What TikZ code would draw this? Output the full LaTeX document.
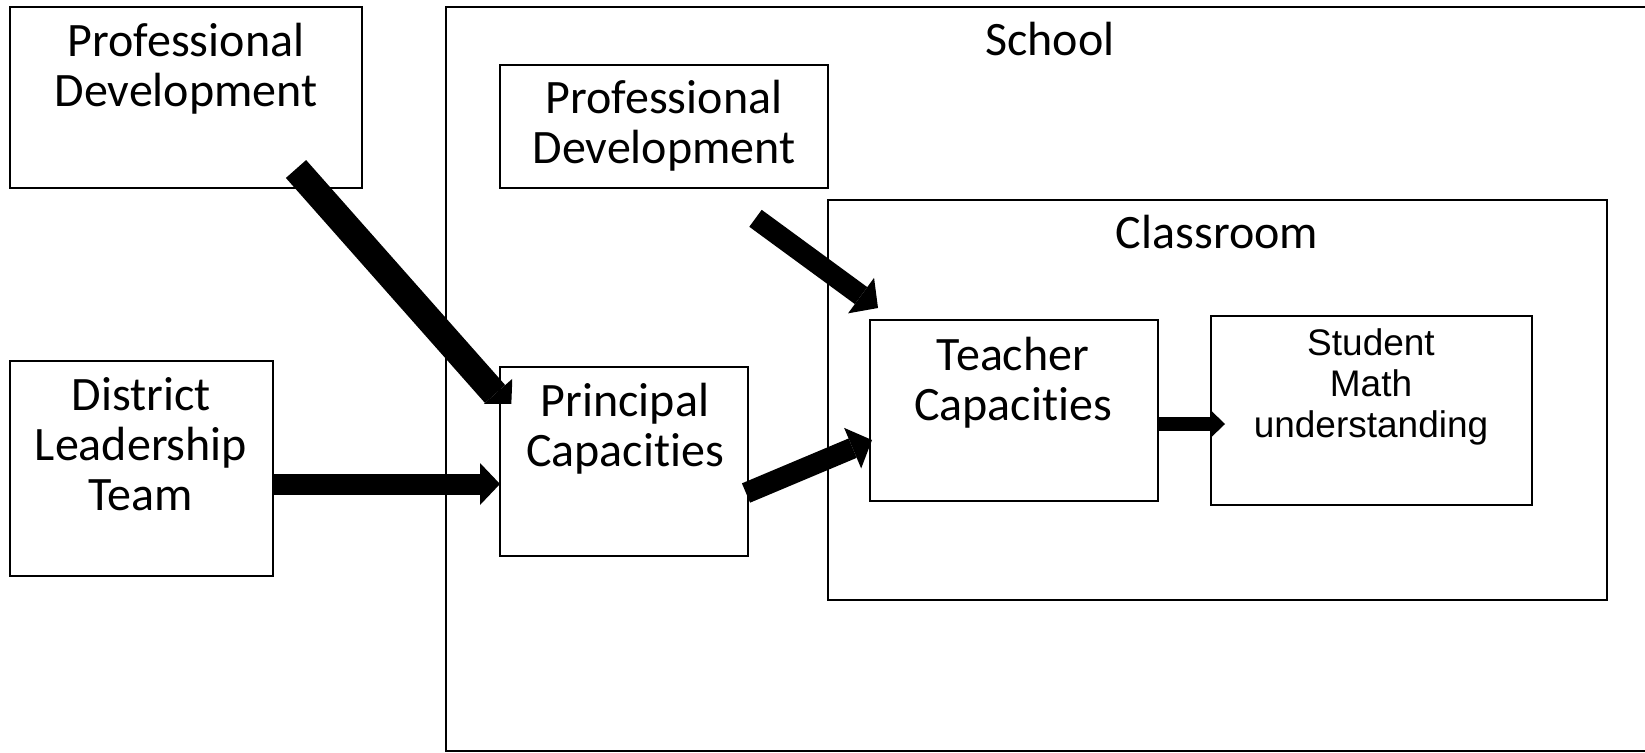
\documentclass[tikz,border=0pt]{standalone}
\usepackage{fontspec}
\setmainfont{Carlito}[Ligatures=NoCommon]
\newfontfamily\arialfont{Liberation Sans}
\usetikzlibrary{arrows.meta}

\tikzset{
  box/.style={draw, line width=2pt, fill=white, inner sep=0pt, outer sep=0pt,
              anchor=north west},
  % multi-line labels are anchored at the baseline of their last line
  txt/.style={font=\fontsize{48}{50}\selectfont, align=center, inner sep=0pt,
              anchor=base},
  stxt/.style={font=\arialfont\fontsize{37}{41}\selectfont, align=center,
               inner sep=0pt, anchor=base},
  widearrow/.style={line width=27pt,
                    -{Triangle[length=24pt,width=46pt,line width=0pt]}},
  bigarrow/.style={line width=21pt,
                   -{Triangle[length=20pt,width=42pt,line width=0pt]}},
  midarrow/.style={line width=21pt,
                   -{Triangle[length=21pt,width=44pt,line width=0pt]}},
  smallarrow/.style={line width=14pt,
                     -{Triangle[length=14pt,width=27pt,line width=0pt]}},
}

\begin{document}
\begin{tikzpicture}[x=1pt, y=-1pt]
\clip (0,0) rectangle (1645,752);
\useasboundingbox (0,0) rectangle (1645,752);
\fill[white] (0,0) rectangle (1645,752);

% containers
\node[box, minimum width=1260pt, minimum height=744pt] (school) at (446,7) {};
\node[box, minimum width=779pt, minimum height=400pt] (classroom) at (828,200) {};

% boxes
\node[box, minimum width=352pt, minimum height=181pt] (pdOut) at (10,7) {};
\node[box, minimum width=328pt, minimum height=123pt] (pdIn) at (500,65) {};
\node[box, minimum width=263pt, minimum height=215pt] (dlt) at (10,361) {};
\node[box, minimum width=248pt, minimum height=189pt] (principal) at (500,367) {};
\node[box, minimum width=288pt, minimum height=181pt] (teacher) at (870,320) {};
\node[box, minimum width=321pt, minimum height=189pt] (student) at (1211,316) {};

% labels
\node[txt] (schoolTxt) at (1050,56) {School};
\node[txt] (classroomTxt) at (1217,248) {Classroom};
\node[txt] (pdOutTxt) at (186,106) {Professional\\Development};
\node[txt] (pdInTxt) at (664,163) {Professional\\Development};
\node[txt] (dltTxt) at (141,510) {District\\Leadership\\Team};
\node[txt] (principalTxt) at (625,466) {Principal\\Capacities};
\node[txt] (teacherTxt) at (1013,420) {Teacher\\Capacities};
\node[stxt] (studentTxt) at (1371,437) {Student\\Math\\understanding};

% arrow end points
\coordinate (a1s) at (296,169);
\coordinate (a1e) at (511,412);
\coordinate (a2s) at (273,484);
\coordinate (a2e) at (500,484);
\coordinate (a3s) at (746,493);
\coordinate (a3e) at (872,440);
\coordinate (a4s) at (755.5,218.3);
\coordinate (a4e) at (878,308);
\coordinate (a5s) at (1158,424);
\coordinate (a5e) at (1225,424);

% arrows; the first one is cut off at the corner of its frame
\begin{scope}
  \clip (270,140) rectangle (512,403);
  \draw[widearrow] (a1s) -- (a1e);
\end{scope}
\draw[bigarrow] (a2s) -- (a2e);
\draw[midarrow] (a3s) -- (a3e);
\draw[midarrow] (a4s) -- (a4e);
\draw[smallarrow] (a5s) -- (a5e);
\end{tikzpicture}
\end{document}
